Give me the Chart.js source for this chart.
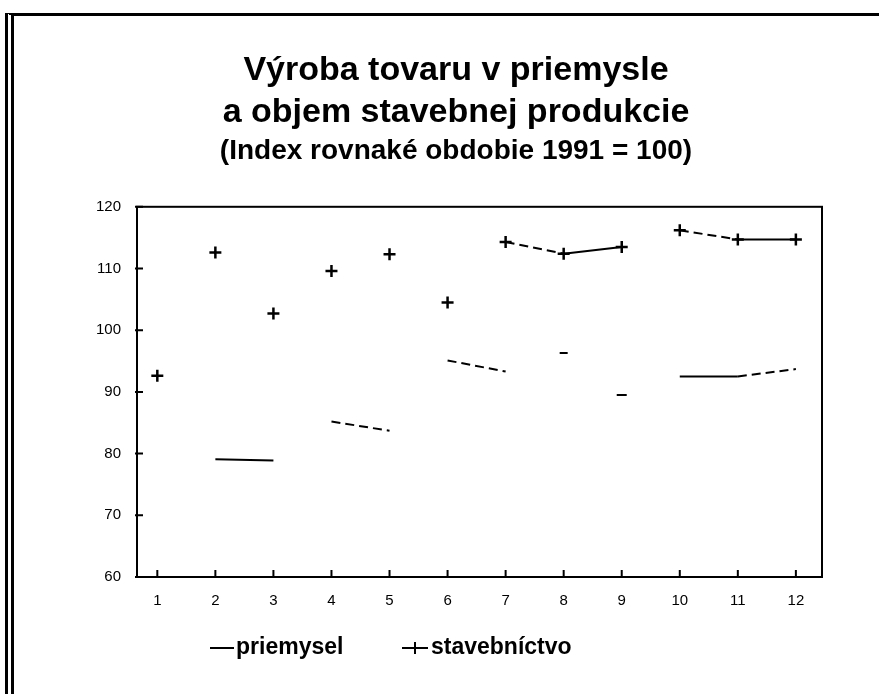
<!DOCTYPE html>
<html>
<head>
<meta charset="utf-8">
<script src="https://cdn.jsdelivr.net/npm/chart.js@4"></script>
<style>
  body { margin: 0; background: #fff; }
  #wrap { position: relative; width: 879px; height: 694px; }
  #ramik { position: absolute; left: 5px; top: 13px; right: 0; bottom: 0;
           border-top: 3px solid #000; border-left: 9px double #000; pointer-events: none; }
</style>
</head>
<body>
<div id="wrap">
  <canvas id="graf" width="879" height="694"></canvas>
  <div id="ramik"></div>
</div>
<script>
// mesiace 1991/1992
var mesiace = [1, 2, 3, 4, 5, 6, 7, 8, 9, 10, 11, 12];
var priemysel = [92.5, 79.1, 78.9, 85.2, 83.7, 95.1, 93.3, 96.3, 89.5, 92.5, 92.5, 93.7];
var stavebnictvo = [92.6, 112.6, 102.7, 109.6, 112.3, 104.5, 114.3, 112.4, 113.5, 116.2, 114.7, 114.7];
var osY = [60, 70, 80, 90, 100, 110, 120];
var osYPopisky = ['60', '70', '80', '90', '100', '110', '120'];

// ktore useky ciar su na predlohe vidiet
var useckyPriemysel = ['none', 'solid', 'none', 'dash', 'none', 'dash', 'none', 'none', 'none', 'solid', 'dash'];
var useckyStav = ['none', 'none', 'none', 'none', 'none', 'none', 'dash', 'solid', 'none', 'dash', 'solid'];

var pismo = "'Liberation Sans', Arial, sans-serif";
var pismoOsi = "'Liberation Sans Narrow', 'Liberation Sans', sans-serif";

function body(hodnoty) {
  return mesiace.map(function (m, i) { return { x: m, y: hodnoty[i] }; });
}

function farbaUseku(zoznam) {
  return function (ctx) {
    return zoznam[ctx.p0DataIndex] == 'none' ? 'rgba(0,0,0,0)' : '#000';
  };
}
function ciarkyUseku(zoznam) {
  return function (ctx) {
    return zoznam[ctx.p0DataIndex] == 'dash' ? [9, 5] : [];
  };
}

// ramcek grafu + ciarky dovnutra
var ramcek = {
  id: 'ramcek',
  afterDraw: function (chart) {
    var c = chart.ctx;
    var a = chart.chartArea;
    c.save();
    c.strokeStyle = '#000';
    c.lineWidth = 2;
    c.strokeRect(a.left, a.top, a.right - a.left, a.bottom - a.top);
    c.beginPath();
    osY.forEach(function (v) {
      var y = chart.scales.y.getPixelForValue(v);
      c.moveTo(a.left - 2, y);
      c.lineTo(a.left + 6, y);
    });
    mesiace.forEach(function (m) {
      var x = chart.scales.x.getPixelForValue(m);
      c.moveTo(x, a.bottom);
      c.lineTo(x, a.bottom - 7);
    });
    c.stroke();
    c.restore();
  }
};

// legenda pod grafom
var legenda = {
  id: 'legenda',
  afterDraw: function (chart) {
    var c = chart.ctx;
    var y = 648;
    c.save();
    c.strokeStyle = '#000';
    c.fillStyle = '#000';
    c.lineWidth = 2;
    c.beginPath();
    c.moveTo(210, y); c.lineTo(234, y);
    c.moveTo(402, y); c.lineTo(428, y);
    c.moveTo(415, y - 6); c.lineTo(415, y + 6);
    c.stroke();
    c.font = 'bold 23px ' + pismo;
    c.textBaseline = 'middle';
    c.textAlign = 'left';
    c.fillText('priemysel', 236, y);
    c.fillText('stavebníctvo', 431, y);
    c.restore();
  }
};

new Chart(document.getElementById('graf'), {
  type: 'line',
  data: {
    datasets: [{
      label: 'priemysel',
      data: body(priemysel),
      borderColor: '#000',
      borderWidth: 2,
      pointStyle: 'line',
      pointRadius: [0, 0, 0, 0, 0, 0, 0, 4, 5, 0, 0, 0],
      pointBorderColor: '#000',
      pointBorderWidth: 2,
      segment: { borderColor: farbaUseku(useckyPriemysel), borderDash: ciarkyUseku(useckyPriemysel) }
    }, {
      label: 'stavebníctvo',
      data: body(stavebnictvo),
      borderColor: '#000',
      borderWidth: 2,
      pointStyle: 'cross',
      pointRadius: 6,
      pointBorderColor: '#000',
      pointBorderWidth: 2.5,
      segment: { borderColor: farbaUseku(useckyStav), borderDash: ciarkyUseku(useckyStav) }
    }]
  },
  options: {
    responsive: false,
    animation: false,
    layout: { padding: { left: 90, right: 57, top: 0, bottom: 0 } },
    plugins: {
      legend: { display: false },
      tooltip: { enabled: false },
      title: {
        display: true,
        text: ['Výroba tovaru v priemysle', 'a objem stavebnej produkcie'],
        color: '#000',
        font: { family: pismo, size: 34, weight: 'bold', lineHeight: 1.25 },
        padding: { top: 49, bottom: 2 }
      },
      subtitle: {
        display: true,
        text: '(Index rovnaké obdobie 1991 = 100)',
        color: '#000',
        font: { family: pismo, size: 28, weight: 'bold', lineHeight: 1.1 },
        padding: { top: 0, bottom: 40 }
      }
    },
    scales: {
      x: {
        type: 'linear',
        min: 0.65,
        max: 12.45,
        afterBuildTicks: function (s) { s.ticks = mesiace.map(function (m) { return { value: m }; }); },
        afterFit: function (s) { s.height = 117; },
        grid: { display: false, drawTicks: false },
        border: { display: false },
        ticks: { color: '#000', padding: 15, font: { family: pismoOsi, size: 15 } }
      },
      y: {
        min: 60,
        max: 120,
        afterBuildTicks: function (s) { s.ticks = osY.map(function (v) { return { value: v }; }); },
        afterFit: function (s) { s.width = 47; },
        grid: { display: false, drawTicks: false },
        border: { display: false },
        ticks: {
          color: '#000', padding: 16, font: { family: pismoOsi, size: 15 },
          callback: function (v) { return osYPopisky[osY.indexOf(v)]; }
        }
      }
    }
  },
  plugins: [ramcek, legenda]
});
</script>
</body>
</html>
